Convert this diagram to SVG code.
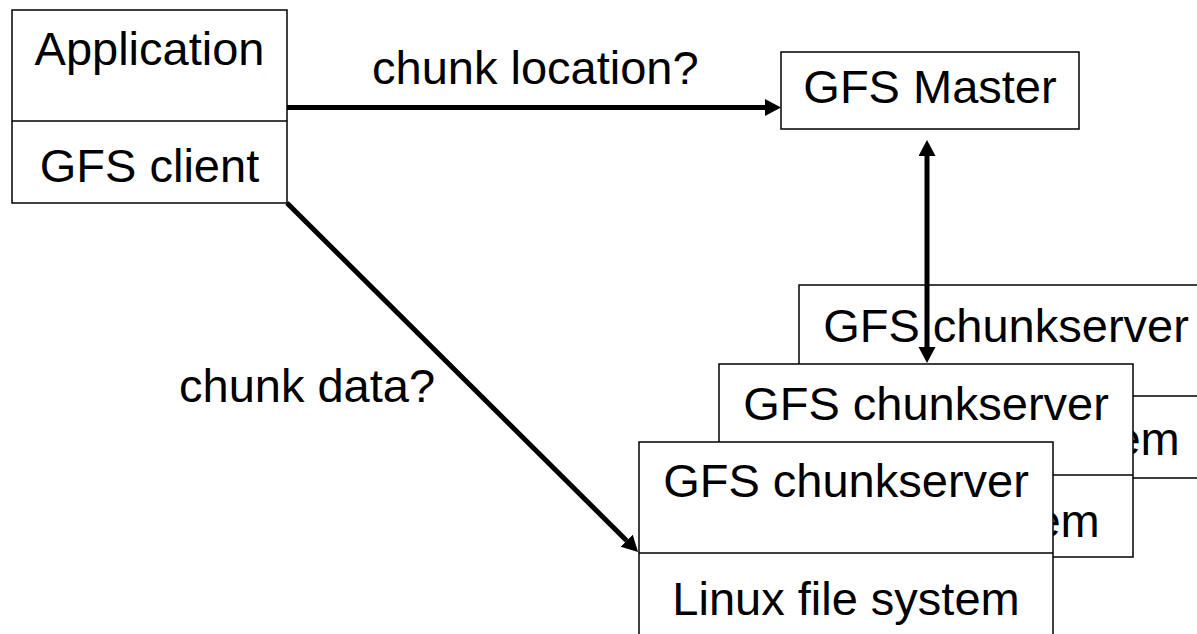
<svg xmlns="http://www.w3.org/2000/svg" width="1197" height="634" viewBox="0 0 1197 634">
  <style>
    .box { fill: #ffffff; stroke: #000000; stroke-width: 1.5; }
    .sep { stroke: #000000; stroke-width: 1.5; }
    .lbl { font-family: "Liberation Sans", Arial, sans-serif; font-size: 47px; fill: #000000; }
    .mid { text-anchor: middle; }
    .wire { stroke: #000000; stroke-width: 5; fill: none; }
  </style>
  <defs>
    <marker id="head" markerUnits="userSpaceOnUse" markerWidth="17" markerHeight="18" refX="0" refY="8.5" orient="auto-start-reverse">
      <path d="M0,0 L16,8.5 L0,17 z" fill="#000000"/>
    </marker>
  </defs>

  <rect width="1197" height="634" fill="#ffffff"/>

  <!-- client process: application on top of the GFS client library -->
  <g id="client">
    <rect class="box" x="12" y="10" width="275" height="193"/>
    <line class="sep" x1="12" y1="121" x2="287" y2="121"/>
    <text class="lbl mid" x="149.5" y="65">Application</text>
    <text class="lbl mid" x="149.5" y="182">GFS client</text>
  </g>

  <!-- master -->
  <g id="master">
    <rect class="box" x="781" y="52" width="298" height="77"/>
    <text class="lbl mid" x="930" y="103">GFS Master</text>
  </g>

  <!-- stacked chunkservers, back to front -->
  <g id="chunkserver-3">
    <rect class="box" x="799" y="285" width="414" height="193"/>
    <line class="sep" x1="799" y1="396" x2="1213" y2="396"/>
    <text class="lbl mid" x="1006" y="342">GFS chunkserver</text>
    <text class="lbl mid" x="1006" y="455">Linux file system</text>
  </g>
  <g id="chunkserver-2">
    <rect class="box" x="719" y="364" width="414" height="193"/>
    <line class="sep" x1="719" y1="475" x2="1133" y2="475"/>
    <text class="lbl mid" x="926" y="420">GFS chunkserver</text>
    <text class="lbl mid" x="926" y="537">Linux file system</text>
  </g>
  <g id="chunkserver-1">
    <rect class="box" x="639" y="442" width="414" height="193"/>
    <line class="sep" x1="639" y1="553" x2="1053" y2="553"/>
    <text class="lbl mid" x="846" y="497">GFS chunkserver</text>
    <text class="lbl mid" x="846" y="615">Linux file system</text>
  </g>

  <!-- requests from the client and master/chunkserver link -->
  <g id="connectors">
    <line class="wire" x1="287" y1="107.5" x2="765" y2="107.5" marker-end="url(#head)"/>
    <text class="lbl" x="372" y="84">chunk location?</text>
    <line class="wire" x1="287" y1="203" x2="626.7" y2="540.7" marker-end="url(#head)"/>
    <text class="lbl" x="179" y="402">chunk data?</text>
    <line class="wire" x1="927" y1="156" x2="927" y2="347" marker-start="url(#head)" marker-end="url(#head)"/>
  </g>
</svg>
